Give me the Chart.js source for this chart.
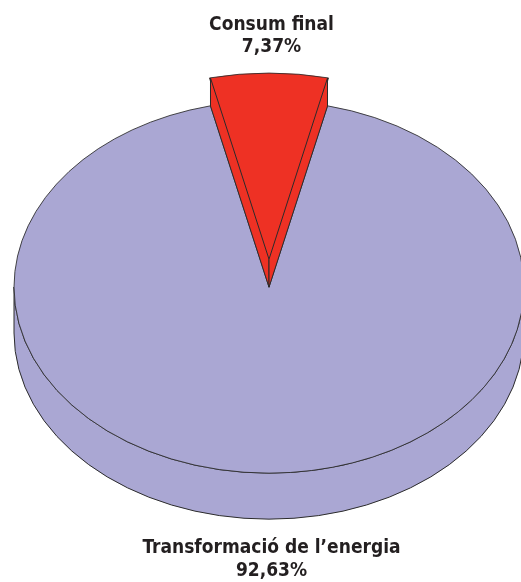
<!DOCTYPE html>
<html>
<head>
<meta charset="utf-8">
<script src="https://cdn.jsdelivr.net/npm/chart.js@4.4.1/dist/chart.umd.min.js"></script>
<style>
  html, body { margin: 0; padding: 0; background: #fff; }
  #wrap { width: 521px; height: 582px; position: relative; }
</style>
</head>
<body>
<div id="wrap"><canvas id="myPieChart"></canvas></div>
<script>
// dades
var categories = ['Consum final', 'Transformació de l’energia'];
var values = [7.37, 92.63];
var colors = ['#ee3124', '#aaa7d3'];

function pct(v) {
  return v.toFixed(2).replace('.', ',') + '%';
}

// pastís "3D": centre de l'el·lipse, aplanament i gruix
var EX = 269, EY = 287, K = 0.73;
var DEPTH = 46, DEPTH_SLICE = 28;
var LINE = '#2b2b2b';

// desplaçament real que aplica ArcElement.draw a una porció
function arcShift(el) {
  var off = (el.options.offset || 0) / 4;
  var circ = el.endAngle - el.startAngle;
  var fix = 1 - Math.sin(Math.min(Math.PI, circ || 0));
  return off + off * fix;
}

var pie3d = {
  id: 'pie3d',
  beforeDatasetsDraw: function(chart) {
    var ctx = chart.ctx;
    var meta = chart.getDatasetMeta(0);
    var arc = meta.data[1];
    var r = arc.outerRadius;
    // lateral frontal
    ctx.save();
    ctx.beginPath();
    ctx.ellipse(EX, EY, r, r * K, 0, 0, Math.PI);
    ctx.lineTo(EX - r, EY + DEPTH);
    ctx.ellipse(EX, EY + DEPTH, r, r * K, 0, Math.PI, 0, true);
    ctx.closePath();
    ctx.fillStyle = colors[1];
    ctx.fill();
    ctx.lineWidth = 1;
    ctx.strokeStyle = LINE;
    ctx.stroke();
    ctx.restore();
    // aplanar la cara de dalt
    ctx.save();
    ctx.translate(EX, EY);
    ctx.scale(1, K);
    ctx.translate(-arc.x, -arc.y);
  },
  afterDatasetsDraw: function(chart) {
    var ctx = chart.ctx;
    ctx.restore();
    var meta = chart.getDatasetMeta(0);
    var el = meta.data[0];
    var cx = el.x, cy = el.y, r = el.outerRadius;
    var off = arcShift(el);
    var mid = (el.startAngle + el.endAngle) / 2;
    var ax = cx + off * Math.cos(mid), ay = cy + off * Math.sin(mid);
    function sx(x) { return EX + (x - cx); }
    function sy(y) { return EY + (y - cy) * K; }
    // cares tallades de la porció separada
    [el.startAngle, el.endAngle].forEach(function(a) {
      var px = ax + r * Math.cos(a), py = ay + r * Math.sin(a);
      ctx.save();
      ctx.beginPath();
      ctx.moveTo(sx(ax), sy(ay));
      ctx.lineTo(sx(px), sy(py));
      ctx.lineTo(sx(px), sy(py) + DEPTH_SLICE);
      ctx.lineTo(sx(ax), sy(ay) + DEPTH_SLICE);
      ctx.closePath();
      ctx.fillStyle = colors[0];
      ctx.fill();
      ctx.lineWidth = 1;
      ctx.strokeStyle = LINE;
      ctx.stroke();
      ctx.restore();
    });
  }
};

var FONT = "'Liberation Sans Narrow', 'DejaVu Sans Condensed', 'Arial Narrow', sans-serif";

var ctx = document.getElementById('myPieChart');
var myPieChart = new Chart(ctx, {
  type: 'pie',
  data: {
    labels: categories,
    datasets: [{
      data: values,
      backgroundColor: colors,
      borderColor: LINE,
      borderWidth: 1,
      offset: [98, 0],
      radius: 255,
      clip: false
    }]
  },
  options: {
    responsive: true,
    maintainAspectRatio: false,
    animation: false,
    events: [],
    // la porció vermella centrada a dalt
    rotation: -values[0] / 100 * 360 / 2,
    layout: { padding: { left: 22 } },
    plugins: {
      legend: { display: false },
      tooltip: { enabled: false },
      title: {
        display: true,
        text: [categories[0], pct(values[0])],
        color: '#231f20',
        font: { family: FONT, size: 19, weight: 'bold', lineHeight: 1.15 },
        padding: { top: 14, bottom: 0 }
      },
      subtitle: {
        display: true,
        position: 'bottom',
        text: [categories[1], pct(values[1])],
        color: '#231f20',
        font: { family: FONT, size: 19, weight: 'bold', lineHeight: 1.2 },
        padding: { top: 0, bottom: 0 }
      }
    }
  },
  plugins: [pie3d]
});
</script>
</body>
</html>
